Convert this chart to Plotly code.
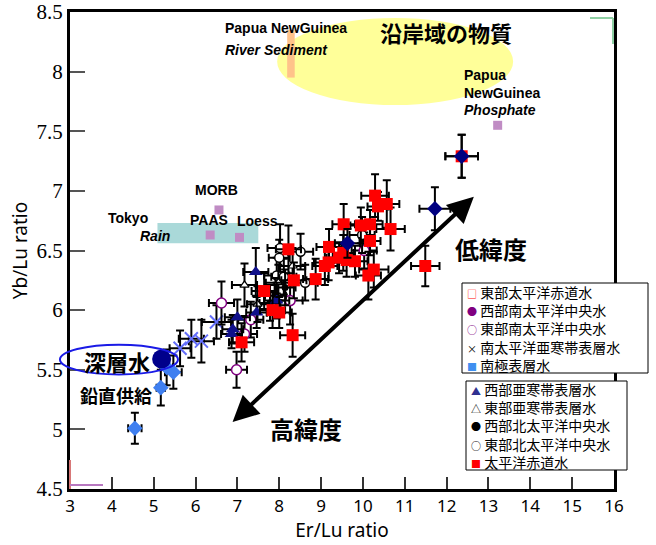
import plotly.graph_objects as go

# ---- axis ranges ----
X_RANGE = [3, 16]
Y_RANGE = [4.5, 8.5]

# ---- 太平洋赤道水 ----
eq_x = [12.36, 11.49, 10.29, 10.57, 10.36, 9.54, 9.95, 10.17, 10.66, 10.17, 9.19, 9.53, 9.43, 9.61,
        9.81, 9.18, 9.09, 10.26, 10.13, 8.87, 8.22, 8.35, 7.64, 7.84, 8.00, 8.32, 7.10]
eq_y = [7.29, 6.37, 6.96, 6.89, 6.87, 6.72, 6.71, 6.72, 6.68, 6.58, 6.53, 6.48, 6.44, 6.42,
        6.41, 6.40, 6.37, 6.34, 6.29, 6.26, 6.51, 6.25, 6.16, 6.00, 5.98, 5.79, 5.73]
eq_ex = [0.39, 0.34, 0.33, 0.30, 0.25, 0.27, 0.25, 0.30, 0.34, 0.25, 0.30, 0.25, 0.30, 0.30,
         0.30, 0.35, 0.30, 0.35, 0.30, 0.30, 0.30, 0.30, 0.30, 0.30, 0.30, 0.30, 0.30]
eq_ey = [0.18, 0.17, 0.18, 0.20, 0.12, 0.17, 0.15, 0.12, 0.18, 0.12, 0.15, 0.15, 0.13, 0.14,
         0.13, 0.15, 0.16, 0.15, 0.20, 0.17, 0.20, 0.15, 0.15, 0.15, 0.13, 0.18, 0.16]

# ---- dark diamonds ----
dia_x = [12.36, 11.72, 9.63]
dia_y = [7.29, 6.85, 6.56]
dia_ex = [0.39, 0.37, 0.30]
dia_ey = [0.18, 0.18, 0.12]

# ---- 西部亜寒帯表層水 ----
wsa_x = [7.44, 7.00, 6.89, 6.86, 7.46, 7.94]
wsa_y = [6.32, 5.94, 5.84, 5.80, 5.98, 6.08]
wsa_ex = [0.30, 0.30, 0.25, 0.25, 0.25, 0.30]
wsa_ey = [0.20, 0.15, 0.12, 0.12, 0.13, 0.15]

# ---- 東部亜寒帯表層水 ----
esa_x = [7.17, 7.48, 7.98, 8.32]
esa_y = [6.21, 6.05, 6.23, 6.37]
esa_ex = [0.30, 0.25, 0.30, 0.30]
esa_ey = [0.18, 0.15, 0.15, 0.15]

# ---- 東部南太平洋中央水 ----
esp_x = [6.62, 7.32, 8.26, 7.17, 6.98, 10.03]
esp_y = [6.06, 5.92, 6.08, 5.80, 5.50, 6.50]
esp_ex = [0.30, 0.30, 0.30, 0.30, 0.25, 0.30]
esp_ey = [0.18, 0.15, 0.20, 0.15, 0.15, 0.15]

# ---- 東部北太平洋中央水 ----
enp_x = [8.02, 8.51, 8.00, 7.94, 8.11, 8.62, 9.98]
enp_y = [6.52, 6.49, 6.44, 6.29, 6.28, 6.23, 6.63]
enp_ex = [0.30, 0.30, 0.25, 0.30, 0.30, 0.30, 0.30]
enp_ey = [0.20, 0.15, 0.15, 0.15, 0.15, 0.15, 0.15]

# ---- 西部北太平洋中央水 ----
wnp_x = [7.91, 7.78, 8.14]
wnp_y = [6.12, 6.06, 6.19]
wnp_ex = [0.25, 0.25, 0.25]
wnp_ey = [0.15, 0.15, 0.15]

# ---- 南太平洋亜寒帯表層水 ----
ssp_x = [5.63, 5.90, 6.14, 6.50]
ssp_y = [5.68, 5.76, 5.74, 5.90]
ssp_ex = [0.25, 0.30, 0.30, 0.35]
ssp_ey = [0.15, 0.16, 0.18, 0.14]

# ---- 南極表層水 ----
ant_x = [4.55, 5.17, 5.31, 5.47]
ant_y = [5.01, 5.35, 5.52, 5.48]
ant_ex = [0.16, 0.10, 0.15, 0.20]
ant_ey = [0.13, 0.15, 0.15, 0.14]

# ---- 深層水 ----
deep_x = [5.19]
deep_y = [5.59]

# ---- reference materials ----
ref_names = ["MORB", "PAAS", "Loess", "Phosphate"]
ref_x = [6.56, 6.35, 7.05, 13.22]
ref_y = [6.84, 6.63, 6.61, 7.55]

# ---- fields ----
river_sed_x = [8.19, 8.37]
river_sed_y = [7.95, 8.35]
tokyo_rain_x = [5.09, 7.50]
tokyo_rain_y = [6.56, 6.73]
coastal_x = [7.95, 13.59]
coastal_y = [7.72, 8.45]
deep_ring_x = [2.76, 5.58]
deep_ring_y = [5.46, 5.71]

# ---- legend boxes ----
legend1_names = ["東部太平洋赤道水", "西部南太平洋中央水", "東部南太平洋中央水",
                 "南太平洋亜寒帯表層水", "南極表層水"]
legend1_glyphs = ["□", "●", "○", "×", "■"]
legend1_colors = ["#ff0000", "#800080", "#800080", "#000000", "#3f8ff0"]
legend2_names = ["西部亜寒帯表層水", "東部亜寒帯表層水", "西部北太平洋中央水",
                 "東部北太平洋中央水", "太平洋赤道水"]
legend2_glyphs = ["▲", "△", "●", "○", "■"]
legend2_colors = ["#303090", "#000000", "#000000", "#000000", "#ff0000"]

JP = "Noto Sans CJK JP"
LAT = "Liberation Sans"
AX = "Noto Sans"

W, H = 656, 545
M_L, M_R, M_T, M_B = 70, 42, 12, 56
PLOT_W = W - M_L - M_R
PLOT_H = H - M_T - M_B


def px(xp):
    return (xp - M_L) / PLOT_W


def py(yp):
    return (H - M_B - yp) / PLOT_H


fig = go.Figure()


def err(arr):
    return dict(type="data", array=arr, color="black", thickness=2, width=4, visible=True)


def add_series(name, x, y, ex, ey, marker):
    fig.add_trace(go.Scatter(x=x, y=y, mode="markers", name=name, marker=marker,
                             error_x=err(ex), error_y=err(ey), showlegend=False))


add_series("南太平洋亜寒帯表層水", ssp_x, ssp_y, ssp_ex, ssp_ey,
           dict(symbol="x-thin-open", size=13, line=dict(color="black", width=2)))
add_series("東部南太平洋中央水", esp_x, esp_y, esp_ex, esp_ey,
           dict(symbol="circle", size=10, color="white", line=dict(color="#800080", width=1.5)))
add_series("東部北太平洋中央水", enp_x, enp_y, enp_ex, enp_ey,
           dict(symbol="circle", size=9, color="white", line=dict(color="black", width=1.5)))
add_series("西部北太平洋中央水", wnp_x, wnp_y, wnp_ex, wnp_ey,
           dict(symbol="circle", size=7, color="black"))
add_series("東部亜寒帯表層水", esa_x, esa_y, esa_ex, esa_ey,
           dict(symbol="triangle-up", size=8, color="white", line=dict(color="black", width=1.2)))
add_series("西部亜寒帯表層水", wsa_x, wsa_y, wsa_ex, wsa_ey,
           dict(symbol="triangle-up", size=12, color="#10108a", line=dict(width=0)))
add_series("太平洋赤道水", eq_x, eq_y, eq_ex, eq_ey,
           dict(symbol="square", size=12, color="#ff0000", line=dict(width=0)))
add_series("", dia_x, dia_y, dia_ex, dia_ey,
           dict(symbol="diamond", size=12, color="#000080", line=dict(width=0)))
add_series("南極表層水", ant_x, ant_y, ant_ex, ant_ey,
           dict(symbol="diamond", size=12, color="#3f7ff0", line=dict(width=0)))

fig.add_trace(go.Scatter(x=deep_x, y=deep_y, mode="markers", name="深層水",
                         marker=dict(symbol="circle", size=19, color="#00008b"),
                         showlegend=False))
fig.add_trace(go.Scatter(x=ref_x, y=ref_y, mode="markers", text=ref_names, name="",
                         marker=dict(symbol="square", size=9, color="#c08cc4"),
                         showlegend=False, hoverinfo="text+x+y"))

# ---- shaded fields ----
fig.add_shape(type="circle", xref="x", yref="y", x0=coastal_x[0], x1=coastal_x[1],
              y0=coastal_y[0], y1=coastal_y[1], fillcolor="#ffff99", line=dict(width=0),
              layer="below")
fig.add_shape(type="rect", xref="x", yref="y", x0=river_sed_x[0], x1=river_sed_x[1],
              y0=river_sed_y[0], y1=river_sed_y[1], fillcolor="#ffc38a", line=dict(width=0),
              layer="below")
fig.add_shape(type="rect", xref="x", yref="y", x0=tokyo_rain_x[0], x1=tokyo_rain_x[1],
              y0=tokyo_rain_y[0], y1=tokyo_rain_y[1], fillcolor="#aad9d9", line=dict(width=0),
              layer="below")


def to_paper_x(v):
    return (v - X_RANGE[0]) / (X_RANGE[1] - X_RANGE[0])


# ring around the deep-water point (allowed to run past the y axis)
fig.add_shape(type="circle", xref="paper", yref="y",
              x0=to_paper_x(deep_ring_x[0]), x1=to_paper_x(deep_ring_x[1]),
              y0=deep_ring_y[0], y1=deep_ring_y[1],
              line=dict(color="#1a1ae6", width=2))

# small corner marks
fig.add_shape(type="line", xref="paper", yref="paper", x0=px(590), x1=px(613), y0=py(18), y1=py(18),
              line=dict(color="#8fd0a4", width=2))
fig.add_shape(type="line", xref="paper", yref="paper", x0=px(613), x1=px(613), y0=py(18), y1=py(44),
              line=dict(color="#8fd0a4", width=2))
fig.add_shape(type="line", xref="paper", yref="paper", x0=0.0, x1=0.0, y0=0.0, y1=py(460),
              line=dict(color="#d87878", width=2))
fig.add_shape(type="line", xref="paper", yref="paper", x0=0.0, x1=px(103), y0=py(485), y1=py(485),
              line=dict(color="#b878c0", width=2))

# ---- trend arrow ----
fig.add_annotation(x=12.65, y=6.95, ax=6.85, ay=5.05, xref="x", yref="y", axref="x", ayref="y",
                   text="", showarrow=True, arrowhead=2, startarrowhead=2, arrowside="end+start",
                   arrowsize=1.3, startarrowsize=1.3, arrowwidth=4, arrowcolor="black")


# ---- text labels ----
def label(text, x, y, size, xanchor="left", family=LAT, bold=True, italic=False):
    t = text
    if italic:
        t = "<i>" + t + "</i>"
    if bold:
        t = "<b>" + t + "</b>"
    fig.add_annotation(x=x, y=y, xref="x", yref="y", text=t, showarrow=False,
                       xanchor=xanchor, yanchor="middle",
                       font=dict(family=family, size=size, color="black"))


label("Papua NewGuinea", 6.66, 8.37, 14)
label("River Sediment", 6.66, 8.18, 14, italic=True)
label("沿岸域の物質", 11.98, 8.33, 22, xanchor="center", family=JP)
label("Papua", 12.37, 7.97, 14)
label("NewGuinea", 12.37, 7.82, 14)
label("Phosphate", 12.37, 7.68, 14, italic=True)
label("MORB", 6.49, 7.01, 14, xanchor="center")
label("Tokyo", 3.86, 6.77, 14)
label("Rain", 4.62, 6.62, 14, italic=True)
label("PAAS", 5.82, 6.76, 14)
label("Loess", 6.94, 6.75, 14)
label("深層水", 4.12, 5.57, 22, xanchor="center", family=JP)
label("鉛直供給", 3.19, 5.29, 18, family=JP)
label("低緯度", 12.15, 6.52, 24, family=JP)
label("高緯度", 7.73, 5.01, 24, family=JP)


# ---- legend boxes: one bordered multi-line text block each ----
def legend_box(left, top, right, bottom, text_left, names, glyphs, colors, size):
    fig.add_shape(type="rect", xref="paper", yref="paper",
                  x0=px(left), x1=px(right), y0=py(bottom), y1=py(top),
                  fillcolor="white", line=dict(color="black", width=1), layer="above")
    lines = [
        "<span style='color:%s;font-size:10px'>%s</span> %s" % (c, g, n)
        for n, g, c in zip(names, glyphs, colors)
    ]
    fig.add_annotation(x=px(text_left), y=py((top + bottom) / 2), xref="paper", yref="paper",
                       text="<br>".join(lines), showarrow=False, align="left",
                       xanchor="left", yanchor="middle", borderpad=0,
                       font=dict(family=JP, size=size, color="black"))


legend_box(462, 283, 648, 373, 466, legend1_names, legend1_glyphs, legend1_colors, 14)
legend_box(466, 381, 627, 470, 470, legend2_names, legend2_glyphs, legend2_colors, 14)

fig.update_layout(
    width=W, height=H,
    margin=dict(l=M_L, r=M_R, t=M_T, b=M_B),
    paper_bgcolor="white", plot_bgcolor="white",
    showlegend=False,
    xaxis=dict(range=X_RANGE, dtick=1, tick0=3, ticks="inside", ticklen=12, tickwidth=1.5,
               tickcolor="#333", showgrid=False, zeroline=False, showline=True, linewidth=3,
               linecolor="black", mirror=True, automargin=False, ticklabeloverflow="allow",
               tickfont=dict(family=AX, size=17, color="black"),
               title=dict(text="Er/Lu ratio", font=dict(family=AX, size=19, color="black"),
                          standoff=8)),
    yaxis=dict(range=Y_RANGE, dtick=0.5, tick0=4.5, ticks="inside", ticklen=15, tickwidth=1.5,
               tickcolor="#555", showgrid=False, zeroline=False, showline=True, linewidth=3,
               linecolor="black", mirror=True, automargin=False, ticklabeloverflow="allow",
               tickfont=dict(family="Liberation Serif", size=21, color="black"),
               title=dict(text="Yb/Lu ratio", font=dict(family=AX, size=19, color="black"),
                          standoff=4)),
)

fig.write_html("out.html")
